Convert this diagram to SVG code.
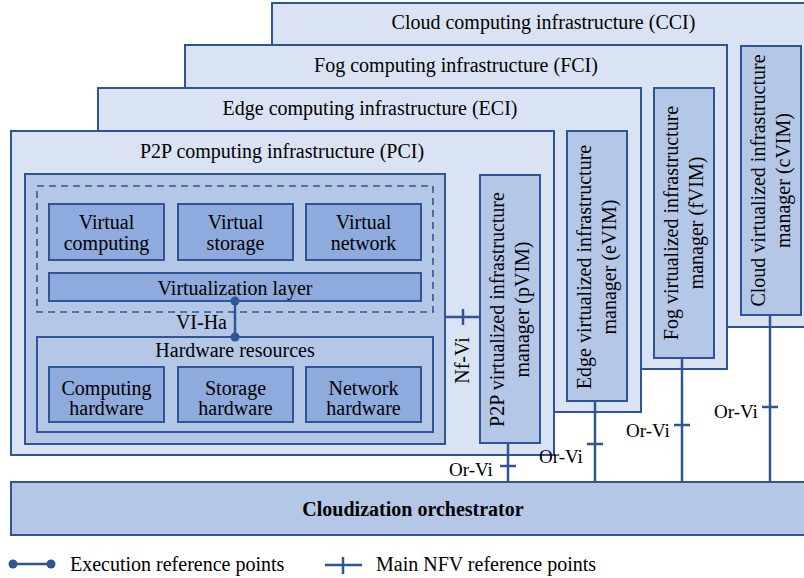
<svg xmlns="http://www.w3.org/2000/svg" width="804" height="578" viewBox="0 0 804 578">
<style>
.l1{fill:#dae3f3;stroke:#2f5597;stroke-width:2}
.l2{fill:#b4c7e7;stroke:#2f5597;stroke-width:2}
.l3{fill:#8faadc;stroke:#2f5597;stroke-width:2}
.dash{fill:none;stroke:#2f5597;stroke-width:1.6;stroke-dasharray:7,5}
.ln{fill:none;stroke:#2f5597;stroke-width:2.5}
.dot{fill:#2f5597}
text{font-family:"Liberation Serif","Times New Roman",serif;font-size:20px;fill:#000}
.c{text-anchor:middle}
.e{text-anchor:end}
.b{font-weight:bold}
</style>
<rect width="804" height="578" fill="#fff"/>
<g id="cci">
<rect class="l1" x="272" y="3" width="543" height="324"/>
<text class="c" x="543.5" y="29">Cloud computing infrastructure (CCI)</text>
</g>
<g id="cvim">
<rect class="l2" x="741" y="46" width="60" height="269"/>
<text class="c" transform="translate(771,180.5) rotate(-90)"><tspan x="0" y="-6">Cloud virtualized infrastructure</tspan><tspan x="0" y="19">manager (cVIM)</tspan></text>
</g>
<g id="fci">
<rect class="l1" x="185" y="45" width="542" height="324"/>
<text class="c" x="456" y="72">Fog computing infrastructure (FCI)</text>
</g>
<g id="fvim">
<rect class="l2" x="654" y="88" width="60" height="270"/>
<text class="c" transform="translate(684,223) rotate(-90)"><tspan x="0" y="-6">Fog virtualized infrastructure</tspan><tspan x="0" y="19">manager (fVIM)</tspan></text>
</g>
<g id="eci">
<rect class="l1" x="98" y="88" width="543" height="324"/>
<text class="c" x="370" y="115">Edge computing infrastructure (ECI)</text>
</g>
<g id="evim">
<rect class="l2" x="567" y="131" width="60" height="270"/>
<text class="c" transform="translate(597,267) rotate(-90)"><tspan x="0" y="-6">Edge virtualized infrastructure</tspan><tspan x="0" y="19">manager (eVIM)</tspan></text>
</g>
<g id="pci">
<rect class="l1" x="11" y="131" width="543" height="324"/>
<text class="c" x="282" y="158">P2P computing infrastructure (PCI)</text>
</g>
<g id="pvim">
<rect class="l2" x="480" y="175" width="60" height="268"/>
<text class="c" transform="translate(510,309.5) rotate(-90)"><tspan x="0" y="-6">P2P virtualized infrastructure</tspan><tspan x="0" y="19">manager (pVIM)</tspan></text>
</g>
<g id="nfvi">
<rect class="l2" x="25" y="174" width="420" height="270"/>
<rect class="dash" x="37" y="186" width="396" height="126"/>
</g>
<g id="virtual-computing">
<rect class="l3" x="49" y="204" width="115" height="56"/>
<text class="c" x="106.5" y="229">Virtual</text>
<text class="c" x="106.5" y="250">computing</text>
</g>
<g id="virtual-storage">
<rect class="l3" x="178" y="204" width="115" height="56"/>
<text class="c" x="235.5" y="228.5">Virtual</text>
<text class="c" x="235.5" y="249.5">storage</text>
</g>
<g id="virtual-network">
<rect class="l3" x="306" y="204" width="115" height="56"/>
<text class="c" x="363.5" y="228.5">Virtual</text>
<text class="c" x="363.5" y="249.5">network</text>
</g>
<g id="virtualization-layer">
<rect class="l3" x="49" y="273" width="372" height="28"/>
<text class="c" x="235" y="294.5">Virtualization layer</text>
</g>
<g id="hardware-resources">
<rect class="l2" x="37" y="337" width="396" height="95"/>
<text class="c" x="235" y="357">Hardware resources</text>
</g>
<g id="computing-hardware">
<rect class="l3" x="49" y="367" width="115" height="55"/>
<text class="c" x="106.5" y="395">Computing</text>
<text class="c" x="106.5" y="415">hardware</text>
</g>
<g id="storage-hardware">
<rect class="l3" x="178" y="367" width="115" height="55"/>
<text class="c" x="235.5" y="395">Storage</text>
<text class="c" x="235.5" y="415">hardware</text>
</g>
<g id="network-hardware">
<rect class="l3" x="306" y="367" width="115" height="55"/>
<text class="c" x="363.5" y="395">Network</text>
<text class="c" x="363.5" y="415">hardware</text>
</g>
<g id="orchestrator">
<rect class="l2" x="11" y="482" width="804" height="53"/>
<text class="c b" x="413" y="516">Cloudization orchestrator</text>
</g>
<g id="connectors">
<line class="ln" x1="235" y1="301" x2="235" y2="337"/>
<circle class="dot" cx="235" cy="301" r="4.5"/>
<circle class="dot" cx="235" cy="337" r="4.5"/>
<text class="e" x="227" y="329">VI-Ha</text>
<line class="ln" x1="445" y1="317" x2="480" y2="317"/>
<line class="ln" x1="463" y1="309" x2="463" y2="325"/>
<text class="c" transform="translate(469,360.5) rotate(-90)" x="0" y="0">Nf-Vi</text>
<line class="ln" x1="508" y1="443" x2="508" y2="482"/>
<line class="ln" x1="500" y1="466" x2="516" y2="466"/>
<text x="449" y="476" style="font-size:19px">Or-Vi</text>
<line class="ln" x1="595" y1="401" x2="595" y2="482"/>
<line class="ln" x1="587" y1="444" x2="603" y2="444"/>
<text x="539" y="463" style="font-size:19px">Or-Vi</text>
<line class="ln" x1="682" y1="358" x2="682" y2="482"/>
<line class="ln" x1="674" y1="425" x2="690" y2="425"/>
<text x="626" y="437" style="font-size:19px">Or-Vi</text>
<line class="ln" x1="770" y1="315" x2="770" y2="482"/>
<line class="ln" x1="762" y1="407" x2="778" y2="407"/>
<text x="714" y="418" style="font-size:19px">Or-Vi</text>
</g>
<g id="legend">
<line class="ln" x1="13" y1="564" x2="51" y2="564"/>
<circle class="dot" cx="13" cy="564" r="4.5"/>
<circle class="dot" cx="51" cy="564" r="4.5"/>
<text x="70" y="571">Execution reference points</text>
<line class="ln" x1="325" y1="565" x2="362" y2="565"/>
<line class="ln" x1="343" y1="557" x2="343" y2="574"/>
<text x="376" y="571">Main NFV reference points</text>
</g>
</svg>
